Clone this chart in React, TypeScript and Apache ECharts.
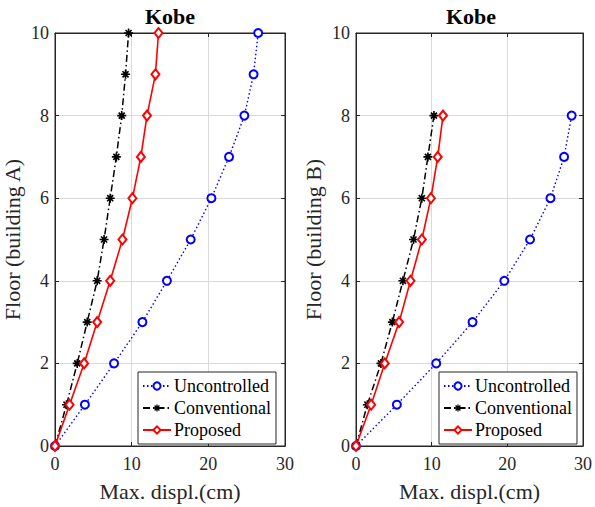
import React, { useEffect, useRef } from "react";
import * as echarts from "echarts";

const floorsA = [0, 1, 2, 3, 4, 5, 6, 7, 8, 9, 10];
const uncontrolledA = [0, 3.9, 7.7, 11.4, 14.6, 17.7, 20.4, 22.7, 24.7, 25.9, 26.5];
const conventionalA = [0, 1.5, 2.9, 4.2, 5.5, 6.4, 7.2, 8.0, 8.7, 9.2, 9.6];
const proposedA = [0, 1.9, 3.8, 5.5, 7.2, 8.8, 10.1, 11.2, 12.0, 13.1, 13.5];

const floorsB = [0, 1, 2, 3, 4, 5, 6, 7, 8];
const uncontrolledB = [0, 5.4, 10.6, 15.4, 19.6, 23.0, 25.7, 27.5, 28.5];
const conventionalB = [0, 1.5, 3.3, 4.8, 6.2, 7.6, 8.7, 9.5, 10.3];
const proposedB = [0, 2.0, 3.8, 5.7, 7.2, 8.7, 9.9, 10.8, 11.5];

const seriesNames = ["Uncontrolled", "Conventional", "Proposed"];
const titles = ["Kobe", "Kobe"];
const yNames = ["Floor (building A)", "Floor (building B)"];
const xName = "Max. displ.(cm)";

const FONT = '"Liberation Serif", "Times New Roman", serif';
const AX = "#262626";
const GRIDC = "#dadada";

const ASTERISK =
  "path://M4.1 0 H5.9 V10 H4.1 Z M0 4.1 H10 V5.9 H0 Z M1.0 2.3 L2.3 1.0 L9.0 7.7 L7.7 9.0 Z M7.7 1.0 L9.0 2.3 L2.3 9.0 L1.0 7.7 Z";

const pairs = (xs: number[], ys: number[]) => xs.map((x, i) => [x, ys[i]]);

export default function App() {
  const ref = useRef<HTMLDivElement>(null);
  useEffect(() => {
    if (!ref.current) return;
    const chart = echarts.init(ref.current, null, { renderer: "svg" });
    const grids = [
      { left: 55, top: 33, width: 230, height: 416 },
      { left: 356, top: 33, width: 230, height: 416 },
    ];
    const xAxes: any[] = [];
    const yAxes: any[] = [];
    grids.forEach((g, gi) => {
      xAxes.push({
        type: "value", gridIndex: gi, position: "bottom", min: 0, max: 30, interval: 10,
        name: xName, nameLocation: "middle", nameGap: 34,
        nameTextStyle: { fontFamily: FONT, fontSize: 22, color: AX },
        axisLine: { show: true, onZero: false, lineStyle: { color: AX, width: 1 } },
        axisTick: { show: true, inside: true, length: 4, lineStyle: { color: AX } },
        axisLabel: { fontFamily: FONT, fontSize: 18, color: AX, margin: 9 },
        splitLine: { show: true, lineStyle: { color: GRIDC, width: 1 } },
      });
      xAxes.push({
        type: "value", gridIndex: gi, position: "top", min: 0, max: 30, interval: 10,
        axisLine: { show: true, onZero: false, lineStyle: { color: AX, width: 1 } },
        axisTick: { show: true, inside: true, length: 4, lineStyle: { color: AX } },
        axisLabel: { show: false },
        splitLine: { show: false },
      });
      yAxes.push({
        type: "value", gridIndex: gi, position: "left", min: 0, max: 10, interval: 2,
        name: yNames[gi], nameLocation: "middle", nameGap: 32, nameRotate: 90,
        nameTextStyle: { fontFamily: FONT, fontSize: 22, color: AX },
        axisLine: { show: true, onZero: false, lineStyle: { color: AX, width: 1 } },
        axisTick: { show: true, inside: true, length: 4, lineStyle: { color: AX } },
        axisLabel: { fontFamily: FONT, fontSize: 18, color: AX, margin: 6 },
        splitLine: { show: true, lineStyle: { color: GRIDC, width: 1 } },
      });
      yAxes.push({
        type: "value", gridIndex: gi, position: "right", min: 0, max: 10, interval: 2,
        axisLine: { show: true, onZero: false, lineStyle: { color: AX, width: 1 } },
        axisTick: { show: true, inside: true, length: 4, lineStyle: { color: AX } },
        axisLabel: { show: false },
        splitLine: { show: false },
      });
    });

    const makeSeries = (gi: number, floors: number[], unc: number[], conv: number[], prop: number[]) => [
      {
        name: seriesNames[0], type: "line", xAxisIndex: gi * 2, yAxisIndex: gi * 2,
        data: pairs(unc, floors), clip: false,
        symbol: "emptyCircle", symbolSize: 8,
        lineStyle: { color: "#0000ff", width: 1.4, type: [1.5, 2.5] },
        itemStyle: { color: "#0000ff", borderWidth: 1.6 },
      },
      {
        name: seriesNames[1], type: "line", xAxisIndex: gi * 2, yAxisIndex: gi * 2,
        data: pairs(conv, floors), clip: false,
        symbol: ASTERISK, symbolSize: 9,
        lineStyle: { color: "#000000", width: 1.5, type: [7, 3, 1.5, 3] },
        itemStyle: { color: "#000000", borderWidth: 0 },
      },
      {
        name: seriesNames[2], type: "line", xAxisIndex: gi * 2, yAxisIndex: gi * 2,
        data: pairs(prop, floors), clip: false,
        symbol: "emptyDiamond", symbolSize: [8, 10],
        lineStyle: { color: "#ff0000", width: 1.6, type: "solid" },
        itemStyle: { color: "#ff0000", borderWidth: 1.6 },
      },
    ];

    const legendBase = {
      orient: "vertical",
      data: seriesNames,
      itemWidth: 28,
      itemHeight: 9,
      itemGap: 0,
      padding: [3, 5, 3, 4],
      borderColor: AX,
      borderWidth: 1,
      backgroundColor: "#ffffff",
      textStyle: { fontFamily: FONT, fontSize: 18, color: "#000000", lineHeight: 22, padding: [0, 0, 0, -2] },
      selectedMode: false,
    };

    chart.setOption({
      animation: false,
      backgroundColor: "#ffffff",
      grid: grids.map((g) => ({ ...g, show: true, borderColor: AX, borderWidth: 1, backgroundColor: "transparent" })),
      xAxis: xAxes,
      yAxis: yAxes,
      legend: [
        { ...legendBase, left: 138, top: 372 },
        { ...legendBase, left: 439, top: 372 },
      ],
      graphic: titles.map((t, i) => ({
        type: "text",
        x: grids[i].left + grids[i].width / 2,
        y: 16,
        style: {
          text: t, font: `bold 22px ${FONT}`, fill: "#000000",
          textAlign: "center", textVerticalAlign: "middle",
        },
      })),
      series: [
        ...makeSeries(0, floorsA, uncontrolledA, conventionalA, proposedA),
        ...makeSeries(1, floorsB, uncontrolledB, conventionalB, proposedB),
      ],
    });
    return () => chart.dispose();
  }, []);
  return <div ref={ref} style={{ position: "absolute", left: 0, top: 0, width: 595, height: 507 }} />;
}
